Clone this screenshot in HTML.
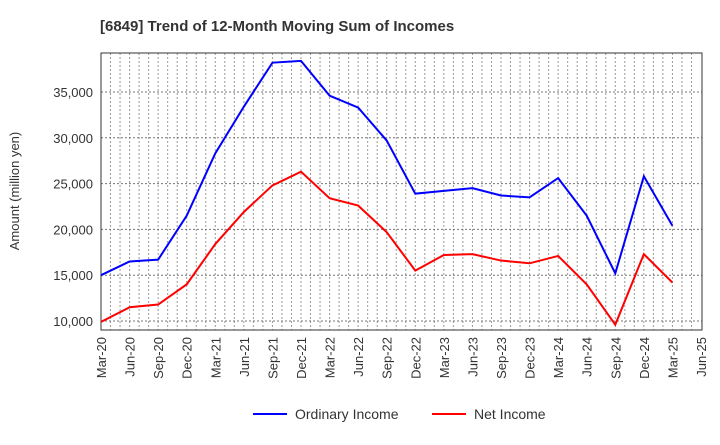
<!DOCTYPE html>
<html><head><meta charset="utf-8"><style>
body{margin:0;background:#fff;font-family:"Liberation Sans",sans-serif;}
</style></head><body>
<svg width="720" height="440" xmlns="http://www.w3.org/2000/svg">
<text x="100" y="31" font-size="15" font-weight="bold" fill="#333">[6849]  Trend of 12-Month Moving Sum of Incomes</text>
<g id="grid"></g>
<rect x="101" y="53" width="601" height="277" fill="none" stroke="#333" stroke-width="1"/>
<g id="yticks"></g><g id="xticks"></g><g id="series"></g>
<text transform="translate(19,191) rotate(-90)" font-size="13" fill="#333" text-anchor="middle">Amount (million yen)</text>
<g>
<line x1="253" y1="414" x2="287" y2="414" stroke="#0000ff" stroke-width="2"/>
<text x="295" y="419" font-size="14" fill="#333">Ordinary Income</text>
<line x1="432" y1="414" x2="466" y2="414" stroke="#ff0000" stroke-width="2"/>
<text x="474" y="419" font-size="14" fill="#333">Net Income</text>
</g>
</svg>
<script>
const xLabels=["Mar-20","Jun-20","Sep-20","Dec-20","Mar-21","Jun-21","Sep-21","Dec-21","Mar-22","Jun-22","Sep-22","Dec-22","Mar-23","Jun-23","Sep-23","Dec-23","Mar-24","Jun-24","Sep-24","Dec-24","Mar-25","Jun-25"];
const yTicks=[10000,15000,20000,25000,30000,35000];
const ordinaryIncome=[15000,16500,16700,21500,28300,33400,38200,38400,34600,33300,29700,23900,24200,24500,23700,23500,25600,21500,15200,25800,20400];
const netIncome=[9900,11500,11800,14000,18400,21900,24800,26300,23400,22600,19700,15500,17200,17300,16600,16300,17100,14000,9600,17300,14200];
const NS="http://www.w3.org/2000/svg";
const X0=101,X1=701,Y0=321,Y1=92;
function xs(i){return X0+i*(X1-X0)/(xLabels.length-1);}
function ys(v){return Y0-(v-10000)*(Y0-Y1)/25000;}
function mk(t,a,p){const e=document.createElementNS(NS,t);for(const k in a)e.setAttribute(k,a[k]);p.appendChild(e);return e;}
const grid=document.getElementById('grid');
for(let m=1;m<(xLabels.length-1)*3;m++){const x=X0+m*(X1-X0)/((xLabels.length-1)*3);
const l=mk('line',{x1:x,x2:x,y1:53,y2:330,stroke:'#999','stroke-width':1,'stroke-dasharray':'2,2'},grid);

}
const yt=document.getElementById('yticks');
yTicks.forEach(v=>{const y=ys(v);
const l=mk('line',{x1:101,x2:702,y1:y,y2:y,stroke:'#777','stroke-width':1,'stroke-dasharray':'2,2'},grid);


const t=mk('text',{x:93,y:y+5,'font-size':13,fill:'#333','text-anchor':'end'},yt);t.textContent=v.toLocaleString('en-US');

});
const xt=document.getElementById('xticks');
xLabels.forEach((s,i)=>{const x=xs(i);
const t=mk('text',{transform:`translate(${x+5},337) rotate(-90)`,'font-size':13,fill:'#333','text-anchor':'end'},xt);t.textContent=s;

});
const sg=document.getElementById('series');
function line(d,c,n){const p=mk('polyline',{points:d.map((v,i)=>xs(i)+','+ys(v)).join(' '),fill:'none',stroke:c,'stroke-width':2},sg);

}
line(ordinaryIncome,'#0000ff','ordinary-income-line');
line(netIncome,'#ff0000','net-income-line');
</script>
</body></html>
